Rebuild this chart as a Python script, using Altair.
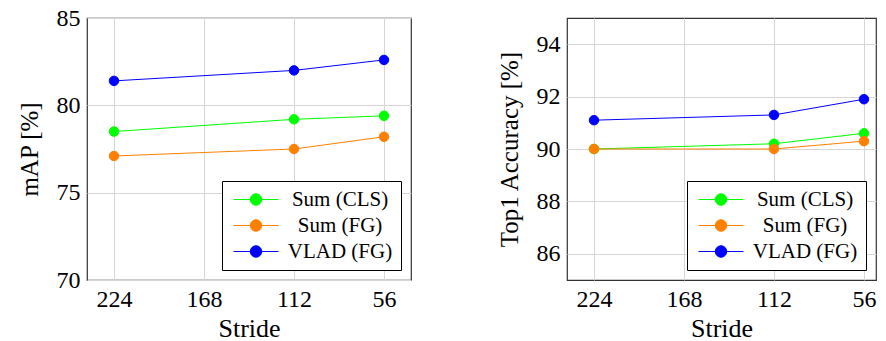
import altair as alt
import pandas as pd

strides = [224, 112, 56]
series = ["Sum (CLS)", "Sum (FG)", "VLAD (FG)"]
colors = ["#00ff00", "#ff8000", "#0000ff"]

map_cls = [78.5, 79.2, 79.4]
map_fg = [77.1, 77.5, 78.2]
map_vlad = [81.4, 82.0, 82.6]

top1_cls = [90.0, 90.2, 90.6]
top1_fg = [90.0, 90.0, 90.3]
top1_vlad = [91.1, 91.3, 91.9]

x_ticks = [224, 168, 112, 56]
map_ticks = [70, 75, 80, 85]
top1_ticks = [86, 88, 90, 92, 94]

FONT = "Liberation Serif"
SYMBOL = "M-1.4,0L7.6,0M1.95,0A1.15,1.15,0,1,1,4.25,0A1.15,1.15,0,1,1,1.95,0Z"


def make_df(vals):
    rows = []
    for name, v in zip(series, vals):
        for s, y in zip(strides, v):
            rows.append({"stride": s, "value": y, "series": name})
    return pd.DataFrame(rows)


def panel(df, ytitle, ydomain, yticks, xdomain, width):
    cscale = alt.Scale(domain=series, range=colors)
    leg = alt.Legend(
        title=None,
        orient="bottom-right",
        offset=10,
        symbolType=SYMBOL,
        symbolSize=100,
        symbolStrokeWidth=1,
        symbolOpacity=1,
        labelFont=FONT,
        labelFontSize=21,
        labelColor="black",
        labelAlign="center",
        labelOffset=89,
        labelExpr="datum.label + '\u00a0'",
        rowPadding=4,
        padding=8,
        strokeColor="black",
        fillColor="white",
        cornerRadius=0,
    )
    x = alt.X(
        "stride:Q",
        scale=alt.Scale(domain=xdomain, reverse=True, nice=False, zero=False),
        axis=alt.Axis(values=x_ticks, title="Stride", labelPadding=7, titlePadding=4),
    )
    y = alt.Y(
        "value:Q",
        scale=alt.Scale(domain=ydomain, nice=False, zero=False),
        axis=alt.Axis(values=yticks, title=ytitle, labelPadding=7, titlePadding=14),
    )
    line = alt.Chart(df).mark_line(strokeWidth=1).encode(
        x=x, y=y,
        stroke=alt.Stroke("series:N", scale=cscale, legend=leg, sort=series),
    )
    pts = alt.Chart(df).mark_point(filled=True, size=90, opacity=1, strokeWidth=1).encode(
        x=x, y=y,
        fill=alt.Fill("series:N", scale=cscale, legend=leg, sort=series),
        stroke=alt.Stroke("series:N", scale=cscale, legend=leg, sort=series),
    )
    return alt.layer(line, pts).properties(width=width, height=262)


left = panel(make_df([map_cls, map_fg, map_vlad]), "mAP [%]", [70, 85], map_ticks,
             [39.2, 240.8], 324)
right = panel(make_df([top1_cls, top1_fg, top1_vlad]), "Top1 Accuracy [%]", [85, 95], top1_ticks,
              [48.5, 240.8], 309)

chart = (
    alt.hconcat(left, right, spacing=84)
    .resolve_scale(stroke="independent", fill="independent")
    .properties(padding={"left": 8, "top": -3, "right": 0, "bottom": 0})
    .configure_view(stroke="#333333", strokeWidth=1.2)
    .configure_axis(
        grid=True,
        gridColor="#d6d6d6",
        gridWidth=1,
        domain=False,
        ticks=False,
        labelFont=FONT,
        titleFont=FONT,
        labelFontSize=24,
        titleFontWeight="normal",
        labelColor="black",
        titleColor="black",
    )
    .configure_axisX(titleFontSize=26)
    .configure_axisY(titleFontSize=25)
)

chart.save("out.html", embed_options={"renderer": "svg", "actions": False})
